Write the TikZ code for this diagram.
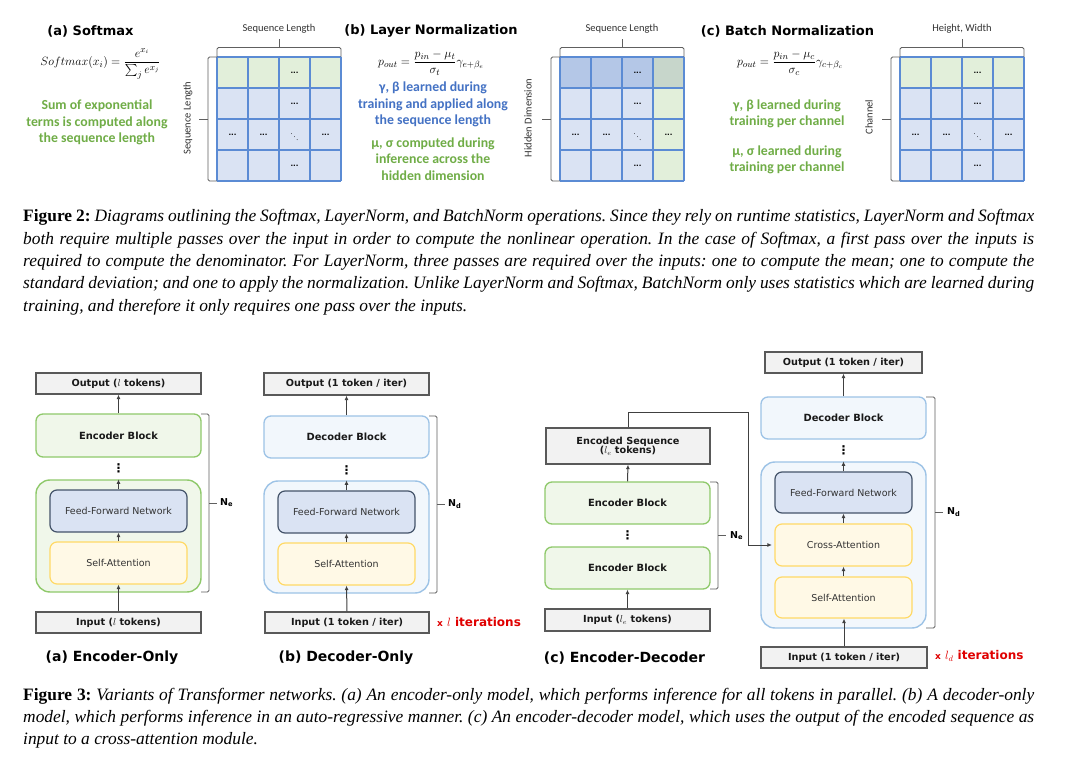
\documentclass[tikz,border=0pt]{standalone}
\usepackage{amsmath}
\usepackage{fontspec}
\setmainfont{Liberation Serif}
\newfontfamily\dv{DejaVu Sans}
\newfontfamily\carl{Carlito}
\usetikzlibrary{arrows.meta}
\definecolor{gridline}{HTML}{5B8BD4}
\definecolor{cellblue}{HTML}{DAE3F3}
\definecolor{cellgreen}{HTML}{E2EFDA}
\definecolor{cellmid}{HTML}{B4C7E7}
\definecolor{cellmix}{HTML}{C7D6CB}
\definecolor{txtgreen}{HTML}{70AD47}
\definecolor{txtblue}{HTML}{4472C4}
\definecolor{boxgrey}{HTML}{F2F2F2}
\definecolor{boxgreyline}{HTML}{595959}
\definecolor{encline}{HTML}{8FC96B}
\definecolor{encfill}{HTML}{F0F7EA}
\definecolor{decline}{HTML}{9DC3E6}
\definecolor{decfill}{HTML}{F2F7FC}
\definecolor{ffnfill}{HTML}{DAE3F3}
\definecolor{ffnline}{HTML}{44546A}
\definecolor{attfill}{HTML}{FFF9E6}
\definecolor{attline}{HTML}{FFD966}
\definecolor{arrowc}{HTML}{404040}
\definecolor{bracec}{HTML}{606060}
\definecolor{itred}{HTML}{E00000}
\frenchspacing
\begin{document}
\begin{tikzpicture}[x=1pt,y=-1pt,
 gbox/.style={draw=boxgreyline, fill=boxgrey, line width=1.3pt, inner sep=0pt, font=\dv\bfseries\fontsize{9.7}{11.5}\selectfont, text=black!90},
 encb/.style={draw=encline, fill=encfill, line width=1.3pt, rounded corners=7pt, inner sep=0pt, font=\dv\bfseries\fontsize{9.9}{12}\selectfont, text=black!90},
 decb/.style={encb, draw=decline, fill=decfill},
 contg/.style={draw=encline, fill=encfill, line width=1.4pt, rounded corners=14pt, inner sep=0pt},
 contb/.style={contg, draw=decline, fill=decfill},
 ffnb/.style={draw=ffnline, fill=ffnfill, line width=1.2pt, rounded corners=7pt, inner sep=0pt, font=\dv\fontsize{9.5}{11}\selectfont, text=black!80},
 attb/.style={ffnb, draw=attline, fill=attfill},
 arr/.style={draw=arrowc, line width=1pt, -{Latex[length=4.5pt,width=4pt]}},
 brc/.style={draw=bracec, line width=0.9pt, rounded corners=1.5pt},
 dotsv/.style={inner sep=0pt, font=\dv\bfseries\fontsize{12}{12}\selectfont},
 nlab/.style={anchor=west, inner sep=0pt, font=\dv\bfseries\fontsize{9.5}{10}\selectfont},
 sublab/.style={font=\dv\bfseries\fontsize{14}{16}\selectfont, inner sep=0pt},
 itlab/.style={anchor=west, inner sep=0pt, text=itred, font=\dv\bfseries\fontsize{12}{14}\selectfont},
 ttl/.style={font=\dv\bfseries\fontsize{13}{15}\selectfont, inner sep=0pt},
 axlab/.style={font=\carl\fontsize{10.5}{12}\selectfont, text=black!80, inner sep=0pt},
 gtxt/.style={font=\carl\bfseries\fontsize{13.8}{16.5}\selectfont, text=txtgreen, align=center, inner sep=0pt},
 btxt/.style={gtxt, text=txtblue},
 capline/.style={anchor=base west, inner sep=0pt, font=\fontsize{17.4}{20}\selectfont\itshape},
 celld/.style={inner sep=0pt, font=\dv\bfseries\fontsize{7}{7}\selectfont},
 frm/.style={inner sep=0pt, font=\fontsize{12.5}{14}\selectfont},
]
\useasboundingbox[fill=white] (0,0) rectangle (1080,762);

% ---------------- Figure 2 top panels ----------------
\node[ttl] (tA) at (90.5,31) {(a) Softmax};
\node[ttl] (tB) at (431,31) {(b) Layer Normalization};
\node[ttl] (tC) at (787.5,31) {(c) Batch Normalization};

\node[frm] (fA) at (100.5,64) {$Softmax(x_i)=\dfrac{e^{x_i}}{\sum_j e^{x_j}}$};
\node[frm] (fB) at (431,63) {$p_{out}=\dfrac{p_{in}-\mu_t}{\sigma_t}\gamma_{e+\beta_e}$};
\node[frm] (fC) at (790,63) {$p_{out}=\dfrac{p_{in}-\mu_c}{\sigma_c}\gamma_{c+\beta_c}$};

\node[gtxt] (gA) at (97,122.5) {Sum of exponential\\terms is computed along\\the sequence length};
\node[btxt] (bB) at (433,104.5) {γ, β learned during\\training and applied along\\the sequence length};
\node[gtxt] (gB) at (433,159) {μ, σ computed during\\inference across the\\hidden dimension};
\node[gtxt] (gC1) at (787,114) {γ, β learned during\\training per channel};
\node[gtxt] (gC2) at (787,160) {μ, σ learned during\\training per channel};

% grids
\foreach \gx in {217,560,900}
  \foreach \r in {0,...,3}
    \foreach \c in {0,...,3}
      \fill[cellblue] ({\gx+31*\c},{57+31*\r}) rectangle ++(31,31);
\foreach \gx in {217,900}
  \fill[cellgreen] (\gx,57) rectangle ++(124,31);
\fill[cellmid] (560,57) rectangle ++(93,31);
\fill[cellmix] (653,57) rectangle ++(31,31);
\fill[cellgreen] (653,88) rectangle ++(31,93);
\foreach \gx in {217,560,900}
  \foreach \i in {0,...,4}{
    \draw[gridline, line width=1.1pt] ({\gx+31*\i},57) -- ({\gx+31*\i},181);
    \draw[gridline, line width=1.1pt] (\gx,{57+31*\i}) -- ({\gx+124},{57+31*\i});
  }
\foreach \gx/\gn in {217/a,560/b,900/c}{
  \foreach \r/\c in {0/2,1/2,2/0,2/1,2/3,3/2}
    \node[celld] (d\gn\r\c) at ({\gx+15.5+31*\c},{72.5+31*\r}) {...};
  \node[celld, font=\boldmath\fontsize{7.5}{7.5}\selectfont] (dd\gn) at ({\gx+77.5},134.5) {$\ddots$};
  \draw[brc] (\gx,57) -- (\gx,47.5) -- ({\gx+124},47.5) -- ({\gx+124},57);
  \draw[brc] ({\gx+62},47.5) -- ({\gx+62},39);
  \draw[brc] (\gx,57) -- ({\gx-9},57) -- ({\gx-9},181) -- (\gx,181);
  \draw[brc] ({\gx-9},119) -- ({\gx-18},119);
}
\node[axlab] (xa) at (279,29) {Sequence Length};
\node[axlab] (xb) at (622,29) {Sequence Length};
\node[axlab] (xc) at (962,29) {Height, Width};
\node[axlab, rotate=90] (ya) at (188,118) {Sequence Length};
\node[axlab, rotate=90] (yb) at (528,118) {Hidden Dimension};
\node[axlab, rotate=90] (yc) at (869,117) {Channel};

% ---------------- Figure 2 caption ----------------
\node[capline] (c2a) at (23,222) {\hbox to 1011pt{{\upshape\bfseries Figure 2:} Diagrams outlining the Softmax, LayerNorm, and BatchNorm operations. Since they rely on runtime statistics, LayerNorm and Softmax}};
\node[capline] (c2b) at (23,244.3) {\hbox to 1011pt{both require multiple passes over the input in order to compute the nonlinear operation. In the case of Softmax, a first pass over the inputs is}};
\node[capline] (c2c) at (23,266.6) {\hbox to 1011pt{required to compute the denominator. For LayerNorm, three passes are required over the inputs: one to compute the mean; one to compute the}};
\node[capline] (c2d) at (23,288.9) {\hbox to 1011pt{standard deviation; and one to apply the normalization. Unlike LayerNorm and Softmax, BatchNorm only uses statistics which are learned during}};
\node[capline] (c2e) at (23,311.2) {training, and therefore it only requires one pass over the inputs.};

% ---------------- (a) Encoder-only ----------------
\node[gbox, minimum width=165, minimum height=21] (outA) at (118.5,383.5) {Output ($l$ tokens)};
\node[encb, minimum width=165, minimum height=43] (encA) at (118.5,435.5) {Encoder Block};
\node[dotsv] (dotA) at (118.5,468) {⋮};
\node[contg, minimum width=165, minimum height=112] (contA) at (118.5,536) {};
\node[ffnb, minimum width=137, minimum height=42] (ffnA) at (118.5,511) {Feed-Forward Network};
\node[attb, minimum width=137, minimum height=42] (saA) at (118.5,563) {Self-Attention};
\node[gbox, minimum width=165, minimum height=21] (inA) at (118.5,622.5) {Input ($l$ tokens)};
\draw[arr] (inA.north) -- (saA.south);
\draw[arr] (saA.north) -- (ffnA.south);
\draw[arr] (ffnA.north) -- (contA.north);
\draw[arr] (encA.north) -- (outA.south);
\draw[brc] (201,414) -- (209,414) -- (209,592) -- (201,592);
\draw[brc] (209,503) -- (217,503);
\node[nlab] (NeA) at (220,503) {N\textsubscript{e}};
\node[sublab] (labA) at (112,658) {(a) Encoder-Only};

% ---------------- (b) Decoder-only ----------------
\node[gbox, minimum width=165, minimum height=22] (outB) at (346.5,384) {Output (1 token / iter)};
\node[decb, minimum width=165, minimum height=42] (decB) at (346.5,437) {Decoder Block};
\node[dotsv] (dotB) at (346.5,470) {⋮};
\node[contb, minimum width=165, minimum height=112] (contB) at (346.5,537) {};
\node[ffnb, minimum width=137, minimum height=42] (ffnB) at (346.5,512) {Feed-Forward Network};
\node[attb, minimum width=137, minimum height=42] (saB) at (346.5,564) {Self-Attention};
\node[gbox, minimum width=164, minimum height=21] (inB) at (347,622.5) {Input (1 token / iter)};
\draw[arr] (inB.north) -- (saB.south);
\draw[arr] (saB.north) -- (ffnB.south);
\draw[arr] (ffnB.north) -- (contB.north);
\draw[arr] (decB.north) -- (outB.south);
\draw[brc] (429,416) -- (437,416) -- (437,593) -- (429,593);
\draw[brc] (437,504.5) -- (445,504.5);
\node[nlab] (NdB) at (448,504.5) {N\textsubscript{d}};
\node[itlab] (itB) at (437,622) {{\fontsize{9}{10}\selectfont x} $l$ iterations};
\node[sublab] (labB) at (346,658) {(b) Decoder-Only};

% ---------------- (c) Encoder-decoder ----------------
\node[gbox, minimum width=164, minimum height=36, align=center] (encS) at (628,446) {Encoded Sequence\\[-2pt]($l_e$ tokens)};
\node[encb, minimum width=165, minimum height=42] (enc1) at (627.5,503) {Encoder Block};
\node[dotsv] (dotCe) at (627.5,535.5) {⋮};
\node[encb, minimum width=165, minimum height=42] (enc2) at (627.5,568) {Encoder Block};
\node[gbox, minimum width=165, minimum height=22] (inCe) at (627.5,620) {Input ($l_e$ tokens)};
\draw[arr] (inCe.north) -- (enc2.south);
\draw[arr] (enc1.north) -- (encS.south);
\draw[brc] (710,482) -- (718,482) -- (718,589) -- (710,589);
\draw[brc] (718,535.5) -- (726,535.5);
\node[nlab] (NeC) at (730,535.5) {N\textsubscript{e}};

\node[gbox, minimum width=157, minimum height=21] (outC) at (843.5,362.5) {Output (1 token / iter)};
\node[decb, minimum width=165, minimum height=42] (decC) at (843.5,418) {Decoder Block};
\node[dotsv] (dotC) at (843.5,450) {⋮};
\node[contb, minimum width=165, minimum height=166] (contC) at (843.5,545) {};
\node[ffnb, minimum width=137, minimum height=41] (ffnC) at (843.5,492.5) {Feed-Forward Network};
\node[attb, minimum width=137, minimum height=42] (caC) at (843.5,545) {Cross-Attention};
\node[attb, minimum width=137, minimum height=41] (saC) at (843.5,597.5) {Self-Attention};
\node[gbox, minimum width=166, minimum height=21] (inC) at (844,657.5) {Input (1 token / iter)};
\draw[arr] (inC.north) -- (inC.north |- saC.south);
\draw[arr] (saC.north) -- (caC.south);
\draw[arr] (caC.north) -- (ffnC.south);
\draw[arr] (ffnC.north) -- (contC.north);
\draw[arr] (decC.north) -- (outC.south);
\coordinate (kk) at (748,412);
\draw[arr, shorten >=2.5pt] (encS.north) |- (kk) |- (caC.west);
\draw[brc] (926,397) -- (935,397) -- (935,628) -- (926,628);
\draw[brc] (935,512.5) -- (943,512.5);
\node[nlab] (NdC) at (947,512.5) {N\textsubscript{d}};
\node[itlab] (itC) at (935,656) {{\fontsize{9}{10}\selectfont x} $l_d$ iterations};
\node[sublab] (labC) at (624.5,658) {(c) Encoder-Decoder};

% ---------------- Figure 3 caption ----------------
\node[capline] (c3a) at (23,700) {\hbox to 1011pt{{\upshape\bfseries Figure 3:} Variants of Transformer networks. (a) An encoder-only model, which performs inference for all tokens in parallel. (b) A decoder-only}};
\node[capline] (c3b) at (23,722.3) {\hbox to 1011pt{model, which performs inference in an auto-regressive manner. (c) An encoder-decoder model, which uses the output of the encoded sequence as}};
\node[capline] (c3c) at (23,744.6) {input to a cross-attention module.};
\end{tikzpicture}
\end{document}
